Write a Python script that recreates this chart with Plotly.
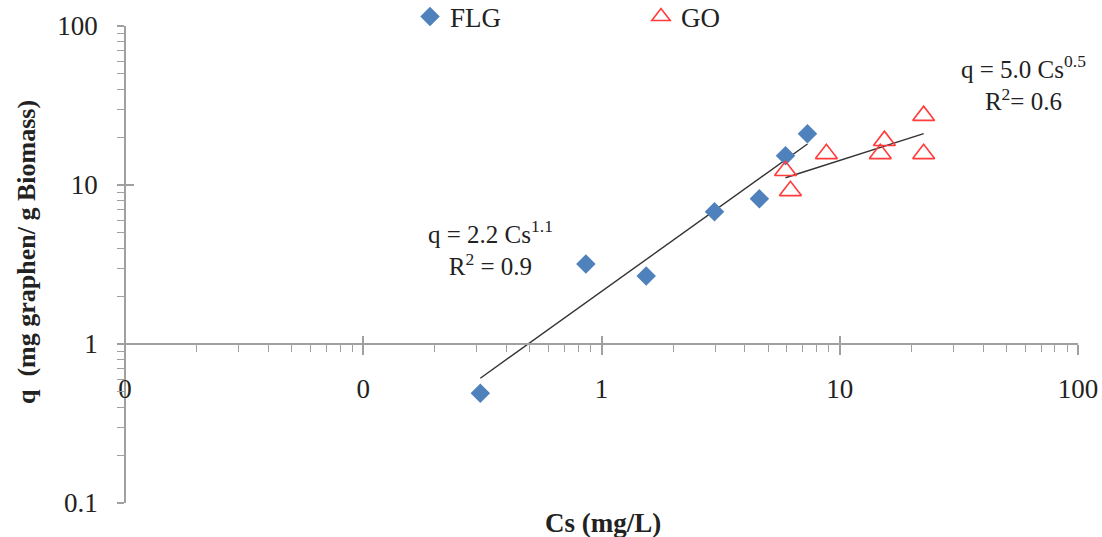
import numpy as np
import plotly.graph_objects as go

# ---- data ----
flg_cs = [0.31, 0.86, 1.54, 2.98, 4.60, 5.92, 7.32]
flg_q = [0.49, 3.19, 2.68, 6.78, 8.19, 15.3, 21.0]
go_cs = [5.92, 6.21, 8.79, 14.8, 15.4, 22.5, 22.5]
go_q = [12.3, 9.19, 15.7, 15.7, 19.0, 27.3, 15.7]

x_tickvals = [0.01, 0.1, 1, 10, 100]
x_ticktext = ["0", "0", "1", "10", "100"]
y_tickvals = [0.1, 1, 10, 100]
y_ticktext = ["0.1", "1", "10", "100"]

FONT = "Liberation Serif"
AXIS_COLOR = "#A0A0A0"
TEXT_COLOR = "#222222"


def power_fit(xs, ys):
    b, a = np.polyfit(np.log10(xs), np.log10(ys), 1)
    xl = np.array([min(xs), max(xs)])
    return xl, 10 ** a * xl ** b


flg_fx, flg_fy = power_fit(flg_cs, flg_q)
go_fx, go_fy = power_fit(go_cs, go_q)

minor_x = [m * d for d in [0.01, 0.1, 1, 10] for m in range(2, 10)]
minor_y = [m * d for d in [0.1, 1, 10] for m in range(2, 10)]

fig = go.Figure()
fig.add_trace(go.Scatter(x=flg_fx, y=flg_fy, mode="lines",
                         line=dict(color="#333333", width=1.4), showlegend=False, hoverinfo="skip"))
fig.add_trace(go.Scatter(x=go_fx, y=go_fy, mode="lines",
                         line=dict(color="#333333", width=1.4), showlegend=False, hoverinfo="skip"))
fig.add_trace(go.Scatter(x=flg_cs, y=flg_q, mode="markers", name="FLG",
                         marker=dict(symbol="diamond", size=15, color="#4F81BD")))
fig.add_trace(go.Scatter(x=go_cs, y=go_q, mode="markers", name="GO",
                         marker=dict(symbol="triangle-up-open", size=19, color="#FF3B3B",
                                     line=dict(width=1.6, color="#FF3B3B"))))
# invisible trace to make overlay axes (crossing major ticks) render
fig.add_trace(go.Scatter(x=[1], y=[1], xaxis="x2", yaxis="y2", mode="markers",
                         marker=dict(opacity=0), showlegend=False, hoverinfo="skip"))

xpos = 1 / 3  # y = 1 on log range [-1, 2]

common_x = dict(type="log", range=[-2, 2], anchor="free", position=xpos,
                showgrid=False, zeroline=False)
common_y = dict(type="log", range=[-1, 2], anchor="free", position=0,
                showgrid=False, zeroline=False)

fig.update_layout(
    width=1102, height=537,
    margin=dict(l=125, r=24, t=26, b=34, autoexpand=False),
    paper_bgcolor="white", plot_bgcolor="white",
    font=dict(family=FONT, size=26, color=TEXT_COLOR),
    xaxis=dict(**common_x, showline=True, linecolor=AXIS_COLOR, linewidth=1.5,
               tickmode="array", tickvals=x_tickvals, ticktext=x_ticktext,
               ticks="outside", ticklen=10, tickwidth=1.5, tickcolor=AXIS_COLOR,
               ticklabelstandoff=11, automargin=False,
               tickfont=dict(family=FONT, size=27, color=TEXT_COLOR),
               minor=dict(tickmode="array", tickvals=minor_x, ticks="outside",
                          ticklen=7, tickwidth=1.3, tickcolor=AXIS_COLOR)),
    yaxis=dict(**common_y, showline=True, linecolor=AXIS_COLOR, linewidth=1.5,
               tickmode="array", tickvals=y_tickvals, ticktext=y_ticktext,
               ticks="outside", ticklen=7, tickwidth=1.5, tickcolor=AXIS_COLOR,
               ticklabelstandoff=14, automargin=False,
               tickfont=dict(family=FONT, size=27, color=TEXT_COLOR),
               minor=dict(tickmode="array", tickvals=minor_y, ticks="outside",
                          ticklen=7, tickwidth=1.3, tickcolor=AXIS_COLOR)),
    xaxis2=dict(**common_x, overlaying="x", showline=False, showticklabels=False,
                tickmode="array", tickvals=x_tickvals, ticks="inside", ticklen=8,
                tickwidth=1.5, tickcolor=AXIS_COLOR, automargin=False),
    yaxis2=dict(**common_y, overlaying="y", showline=False, showticklabels=False,
                tickmode="array", tickvals=y_tickvals, ticks="inside", ticklen=8,
                tickwidth=1.5, tickcolor=AXIS_COLOR, automargin=False),
    legend=dict(orientation="h", x=(410 - 125) / 953, y=(503 - 17) / 477,
                xanchor="left", yanchor="middle", bgcolor="rgba(0,0,0,0)",
                itemwidth=30, entrywidth=186, entrywidthmode="pixels",
                font=dict(family=FONT, size=27, color=TEXT_COLOR), traceorder="normal"),
    showlegend=True,
)


def px_to_paper(px, py):
    return (px - 125) / 953, (503 - py) / 477


annots = [
    ("q = 2.2 Cs<sup>1.1</sup><br>R<sup>2</sup> = 0.9", 490, 248),
    ("q = 5.0 Cs<sup>0.5</sup><br>R<sup>2</sup>= 0.6", 1023, 83),
]
for txt, px, py in annots:
    ax_, ay_ = px_to_paper(px, py)
    fig.add_annotation(text=txt, x=ax_, y=ay_, xref="paper", yref="paper",
                       showarrow=False, xanchor="center", yanchor="middle", align="center",
                       font=dict(family=FONT, size=25, color=TEXT_COLOR))

tx, ty = px_to_paper(603, 523)
fig.add_annotation(text="<b>Cs (mg/L)</b>", x=tx, y=ty, xref="paper", yref="paper",
                   showarrow=False, xanchor="center", yanchor="middle",
                   font=dict(family=FONT, size=27, color=TEXT_COLOR))
tx, ty = px_to_paper(26, 252)
fig.add_annotation(text="<b>q  (mg graphen/ g Biomass)</b>", x=tx, y=ty, xref="paper", yref="paper",
                   showarrow=False, xanchor="center", yanchor="middle", textangle=-90,
                   font=dict(family=FONT, size=26, color=TEXT_COLOR))

fig.write_html("out.html")
